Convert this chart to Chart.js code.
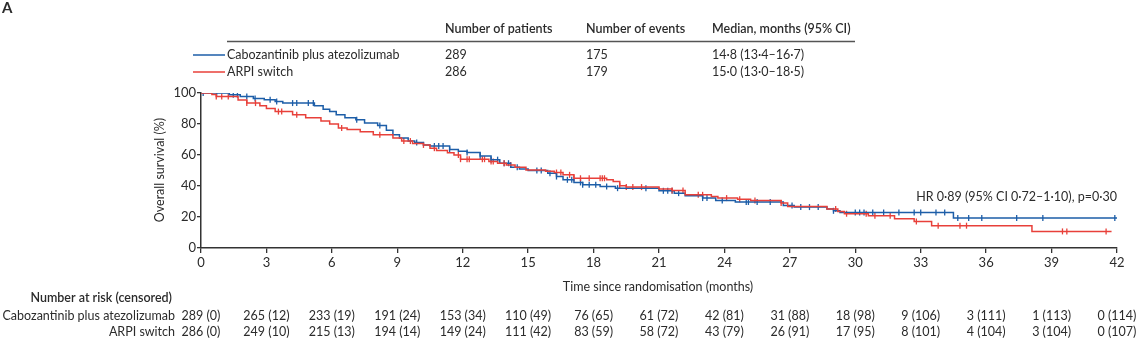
<!DOCTYPE html>
<html>
<head>
<meta charset="utf-8">
<script src="https://cdn.jsdelivr.net/npm/chart.js@4"></script>
<style>
  html, body { margin: 0; padding: 0; background: #fff; }
  #wrap { width: 1136px; height: 353px; }
</style>
</head>
<body>
<div id="wrap"><canvas id="km"></canvas></div>
<script>
// ── Data ──────────────────────────────────────────────────────────────────

const groupNames = ["Cabozantinib plus atezolizumab", "ARPI switch"];
const numPatients = [289, 286];
const numEvents = [175, 179];
const medians = ["14·8 (13·4–16·7)", "15·0 (13·0–18·5)"];
const hrText = "HR 0·89 (95% CI 0·72–1·10), p=0·30";

// Kaplan-Meier steps: time (months) where survival drops to value (%)
const caboTimes = [0, 1.3, 1.8, 2.4, 2.9, 3.4, 3.75, 5.2, 5.6, 5.9, 6.2, 6.6, 7.1, 7.5, 8.1, 8.5, 8.8, 9.1, 9.5, 9.8,
  10.2, 10.5, 11.4, 11.8, 12.2, 12.8, 13.3, 13.7, 14.2, 14.6, 15.0, 15.9, 16.3, 16.6, 17.1, 17.5, 18.3, 19.0,
  21.0, 21.7, 22.2, 23.0, 23.6, 24.5, 26.7, 27.2, 28.7, 29.0, 29.3, 34.5, 42.0];
const caboSurv = [100, 98.9, 97.8, 96.5, 95.6, 94.5, 93.5, 91.8, 89.5, 88, 86, 84, 82.7, 80.6, 79, 76, 73, 71, 69, 68,
  66.5, 65.8, 63.5, 62.5, 61.6, 59.4, 57, 54.7, 52.1, 51, 50, 48.3, 46.1, 44, 42.3, 40.8, 39.7, 38.6,
  36.9, 35.4, 33.7, 32.2, 30.7, 29.7, 27.5, 26.4, 25.1, 24, 22.9, 19.3, 19.3];

const arpiTimes = [0, 0.5, 0.7, 1.7, 2.1, 2.7, 3.0, 3.4, 4.2, 4.8, 5.5, 5.9, 6.3, 6.7, 7.3, 7.9, 8.8, 9.2, 9.7, 10.2,
  10.5, 10.8, 11.3, 11.6, 11.9, 13.2, 13.6, 14.0, 14.4, 14.9, 15.8, 16.2, 16.6, 17.1, 18.6, 18.9, 19.2, 19.5,
  21.0, 21.6, 22.2, 23.4, 23.7, 24.6, 25.2, 26.6, 26.9, 28.7, 29.2, 29.5, 30.6, 31.8, 32.7, 33.5, 38.1, 41.75];
const arpiSurv = [100, 99, 97.8, 95.5, 93.5, 91.8, 90, 88, 86, 84, 82, 80, 77.5, 76.5, 75, 73, 71, 69, 67.5, 66.5,
  64.4, 62.9, 61.5, 60, 57.3, 55.8, 54.6, 53.6, 52.1, 50.4, 49.5, 48.7, 47.2, 45, 44, 42.9, 40.1, 39.3,
  38, 37.1, 34.3, 33.2, 32.2, 31.5, 30.7, 29, 26.8, 25.1, 23.6, 22.1, 20.8, 18.9, 17.1, 14.4, 10.7, 10.7];

// Censoring times (months)
const caboCensor = [0.1, 0.72, 1.48, 1.67, 2.1, 2.48, 3.17, 3.47, 4.2, 4.39, 4.92, 5.15, 7.14, 8.2, 9.89, 10.7, 10.9,
  11.1, 11.4, 12.2, 12.8, 13.3, 13.6, 13.9, 14.1, 14.5, 15.4, 15.6, 16.0, 16.3, 16.8, 17.0, 17.4, 17.5, 17.8, 18.1,
  18.6, 19.1, 20.4, 21.2, 21.4, 21.6, 21.9, 23.0, 23.2, 23.9, 25.0, 25.1, 25.5, 26.1, 27.1, 27.5, 27.9, 28.3, 29.0,
  30.0, 30.2, 30.4, 30.8, 31.3, 32.0, 32.7, 33.0, 33.7, 34.1, 34.7, 35.2, 35.8, 37.4, 38.6, 41.9];
const arpiCensor = [0.7, 0.95, 1.25, 2.1, 2.5, 3.55, 3.7, 4.39, 6.45, 8.2, 9.3, 9.6, 10.2, 10.7, 11.8, 11.9, 12.2,
  12.3, 12.9, 13.0, 13.3, 13.4, 13.9, 14.2, 16.3, 16.5, 16.9, 17.1, 17.4, 17.8, 18.3, 18.4, 18.5, 19.2, 19.5, 19.8,
  20.2, 21.6, 22.1, 22.8, 23.0, 24.1, 24.7, 25.4, 26.6, 29.1, 29.6, 30.5, 30.9, 31.6, 32.8, 33.8, 34.8, 35.1, 39.5,
  39.7, 41.5];

// Number at risk (censored)
const riskMonths = [0, 3, 6, 9, 12, 15, 18, 21, 24, 27, 30, 33, 36, 39, 42];
const caboAtRisk = [289, 265, 233, 191, 153, 110, 76, 61, 42, 31, 18, 9, 3, 1, 0];
const caboCens = [0, 12, 19, 24, 34, 49, 65, 72, 81, 88, 98, 106, 111, 113, 114];
const arpiAtRisk = [286, 249, 215, 194, 149, 111, 83, 58, 43, 26, 17, 8, 4, 3, 0];
const arpiCens = [0, 10, 13, 14, 24, 42, 59, 72, 79, 91, 95, 101, 104, 104, 107];

const BLUE = "#1d5ea8";
const RED = "#e8403a";
const INK = "#2b2b2b";
const FONT = "Lato, 'Open Sans', sans-serif";

// ── Helpers ───────────────────────────────────────────────────────────────

function stepPoints(times, surv) {
  return times.map((t, i) => ({ x: t, y: surv[i] }));
}

// survival value of the step curve at time t
function survAt(times, surv, t) {
  let v = surv[0];
  for (let i = 0; i < times.length; i++) {
    if (times[i] <= t) v = surv[i];
  }
  return v;
}

function censorPoints(censor, times, surv) {
  return censor.map(t => ({ x: t, y: survAt(times, surv, t) }));
}

// ── Text overlay ──────────────────────────────────────────────────────────

const overlay = {
  id: "overlay",
  afterDraw(chart) {
    const ctx = chart.ctx;
    const xs = chart.scales.x;
    ctx.save();
    ctx.fillStyle = INK;
    ctx.textBaseline = "middle";

    // panel letter
    ctx.font = "bold 15px " + FONT;
    ctx.textAlign = "left";
    ctx.fillText("A", 2, 8);

    // summary table
    ctx.font = "600 12.5px " + FONT;
    ctx.fillText("Number of patients", 445, 29);
    ctx.fillText("Number of events", 586, 29);
    ctx.fillText("Median, months (95% CI)", 712, 29);
    ctx.strokeStyle = "#555";
    ctx.lineWidth = 1.5;
    ctx.beginPath();
    ctx.moveTo(227, 41.5);
    ctx.lineTo(855, 41.5);
    ctx.stroke();

    ctx.font = "12.5px " + FONT;
    const rowY = [55, 72];
    const colors = [BLUE, RED];
    rowY.forEach((y, i) => {
      ctx.strokeStyle = colors[i];
      ctx.lineWidth = 1.5;
      ctx.beginPath();
      ctx.moveTo(193, y);
      ctx.lineTo(225, y);
      ctx.stroke();
      ctx.fillStyle = INK;
      ctx.fillText(groupNames[i], 227, y);
      ctx.fillText(String(numPatients[i]), 445, y);
      ctx.fillText(String(numEvents[i]), 586, y);
      ctx.fillText(medians[i], 712, y);
    });

    // hazard ratio
    ctx.textAlign = "right";
    ctx.fillText(hrText, 1117, 197);

    // axis titles
    ctx.textAlign = "center";
    ctx.fillText("Time since randomisation (months)", 658, 287);
    ctx.save();
    ctx.translate(160, 170);
    ctx.rotate(-Math.PI / 2);
    ctx.fillText("Overall survival (%)", 0, 0);
    ctx.restore();

    // number at risk
    ctx.font = "600 12.5px " + FONT;
    ctx.textAlign = "right";
    ctx.fillText("Number at risk (censored)", 172, 298);
    ctx.font = "12.5px " + FONT;
    ctx.fillText(groupNames[0], 175, 316);
    ctx.fillText(groupNames[1], 175, 332);
    ctx.textAlign = "center";
    riskMonths.forEach((m, i) => {
      const px = xs.getPixelForValue(m);
      ctx.fillText(`${caboAtRisk[i]} (${caboCens[i]})`, px, 316);
      ctx.fillText(`${arpiAtRisk[i]} (${arpiCens[i]})`, px, 332);
    });
    ctx.restore();
  },
};

// ── Chart ─────────────────────────────────────────────────────────────────

const ctx = document.getElementById("km").getContext("2d");
new Chart(ctx, {
  type: "line",
  data: {
    datasets: [
      {
        label: groupNames[1],
        data: stepPoints(arpiTimes, arpiSurv),
        borderColor: RED,
        borderWidth: 1.5,
        stepped: "before",
        pointRadius: 0,
        fill: false,
      },
      {
        label: groupNames[0],
        data: stepPoints(caboTimes, caboSurv),
        borderColor: BLUE,
        borderWidth: 1.5,
        stepped: "before",
        pointRadius: 0,
        fill: false,
      },
      {
        type: "scatter",
        data: censorPoints(arpiCensor, arpiTimes, arpiSurv),
        borderColor: RED,
        pointStyle: "line",
        rotation: 90,
        pointRadius: 3,
        pointBorderWidth: 1.3,
      },
      {
        type: "scatter",
        data: censorPoints(caboCensor, caboTimes, caboSurv),
        borderColor: BLUE,
        pointStyle: "line",
        rotation: 90,
        pointRadius: 3,
        pointBorderWidth: 1.3,
      },
    ],
  },
  options: {
    responsive: true,
    maintainAspectRatio: false,
    animation: false,
    layout: { padding: { top: 93, left: 161, right: 19, bottom: 0 } },
    plugins: { legend: { display: false }, tooltip: { enabled: false } },
    scales: {
      x: {
        type: "linear",
        min: 0,
        max: 42,
        ticks: { stepSize: 3, color: INK, font: { family: FONT, size: 13 }, padding: 2, maxRotation: 0 },
        grid: { drawOnChartArea: false, tickLength: 5, color: "#333", lineWidth: 1.3 },
        border: { color: "#333", width: 1.5 },
        afterFit: s => { s.height = 105; },
      },
      y: {
        min: 0,
        max: 100,
        ticks: { stepSize: 10, color: INK, font: { family: FONT, size: 13 }, padding: 1 },
        grid: { drawOnChartArea: false, tickLength: 4, color: "#333", lineWidth: 1.3 },
        border: { color: "#333", width: 1.5 },
        afterFit: s => { s.width = 40; },
      },
    },
  },
  plugins: [overlay],
});
</script>
</body>
</html>
